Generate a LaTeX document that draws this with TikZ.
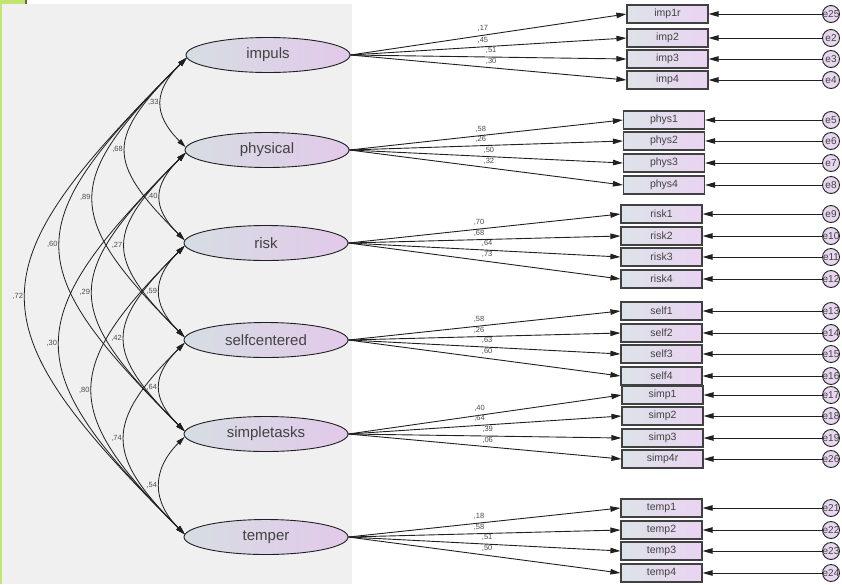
\documentclass[tikz,border=0pt]{standalone}
\usepackage{fontspec}
\setmainfont{Liberation Sans}
\usetikzlibrary{shapes.geometric,arrows.meta}
\definecolor{panel}{HTML}{F0F0F0}
\definecolor{lgreen}{HTML}{C2E570}
\definecolor{latL}{HTML}{D6DDE3}
\definecolor{latR}{HTML}{E2C9EA}
\definecolor{boxL}{HTML}{DDE3E8}
\definecolor{boxR}{HTML}{EAD3F2}
\definecolor{errC}{HTML}{E6D6EE}
\definecolor{ink}{HTML}{202020}
\newcommand{\indic}[8]{%
  \node[obs] (#2) at (#3,#4) {#5};
  \node[err, label={[errtxt]center:#6}] (#6) at (831,#4) {};
  \draw[eline] (#6) -- (#2.east);
  \draw[load] (#1.east) -- node[coef, pos=#8, above=2.5pt] {#7} (#2.west);
}
\begin{document}
\begin{tikzpicture}[x=1pt,y=-1pt,
  latent/.style={ellipse, draw=ink, line width=0.9pt, minimum width=164pt, minimum height=35pt, inner sep=0pt, left color=latL, right color=latR, font=\fontsize{15}{16}\selectfont, text=ink!85},
  obs/.style={rectangle, draw=ink!85, line width=1.2pt, minimum width=81pt, minimum height=18pt, inner sep=0pt, left color=boxL, right color=boxR, font=\fontsize{10.5}{12}\selectfont, text=ink!85},
  err/.style={circle, draw=ink, line width=0.9pt, minimum size=17pt, inner sep=0pt, fill=errC},
  errtxt/.style={font=\fontsize{10}{12}\selectfont, inner sep=0pt, text=ink!85},
  load/.style={draw=ink, line width=0.9pt, -{Triangle[length=10pt,width=5.5pt]}},
  eline/.style={draw=ink, line width=0.9pt, -{Triangle[length=10pt,width=5.5pt]}},
  cov/.style={draw=ink, line width=0.8pt, {Triangle[length=9pt,width=5pt]}-{Triangle[length=9pt,width=5pt]}},
  coef/.style={font=\fontsize{7.5}{8}\selectfont, inner sep=0.5pt, text=ink!80},
]
\useasboundingbox (0,0) rectangle (842,584);
% background
\fill[white] (0,0) rectangle (842,584);
\fill[panel] (2,4) rectangle (352,584);
\fill[lgreen] (0,0) rectangle (2,584);
\fill[lgreen] (0,0) rectangle (25,4);
\fill[ink!70] (25,0) rectangle (26.5,4);

% latent variables
\node[latent] (Limp) at (268,55) {impuls};
\node[latent] (Lphy) at (267,150) {physical};
\node[latent] (Lrsk) at (266,243) {risk};
\node[latent] (Lslf) at (266,340) {selfcentered};
\node[latent] (Lsmp) at (266,434) {simpletasks};
\node[latent] (Ltmp) at (266,537) {temper};

% indicators
\indic{Limp}{imp1r}{667.5}{14}{imp1r}{e25}{,17}{.48}
\indic{Limp}{imp2}{667.5}{38}{imp2}{e2}{,45}{.48}
\indic{Limp}{imp3}{667.5}{59}{imp3}{e3}{,51}{.51}
\indic{Limp}{imp4}{667.5}{80}{imp4}{e4}{,30}{.51}

\indic{Lphy}{phys1}{664}{120}{phys1}{e5}{,58}{.48}
\indic{Lphy}{phys2}{664}{141}{phys2}{e6}{,26}{.48}
\indic{Lphy}{phys3}{664}{163}{phys3}{e7}{,50}{.51}
\indic{Lphy}{phys4}{664}{185}{phys4}{e8}{,32}{.51}

\indic{Lrsk}{risk1}{661.5}{214}{risk1}{e9}{,70}{.48}
\indic{Lrsk}{risk2}{661.5}{236}{risk2}{e10}{,68}{.48}
\indic{Lrsk}{risk3}{661.5}{257}{risk3}{e11}{,64}{.51}
\indic{Lrsk}{risk4}{661.5}{279}{risk4}{e12}{,73}{.51}

\indic{Lslf}{self1}{661.5}{311}{self1}{e13}{,58}{.48}
\indic{Lslf}{self2}{661.5}{333}{self2}{e14}{,26}{.48}
\indic{Lslf}{self3}{661.5}{354}{self3}{e15}{,63}{.51}
\indic{Lslf}{self4}{661.5}{376}{self4}{e16}{,60}{.51}

\indic{Lsmp}{simp1}{662.5}{395}{simp1}{e17}{,40}{.48}
\indic{Lsmp}{simp2}{662.5}{416}{simp2}{e18}{,64}{.48}
\indic{Lsmp}{simp3}{662.5}{438}{simp3}{e19}{,39}{.51}
\indic{Lsmp}{simp4r}{662.5}{459}{simp4r}{e26}{,06}{.51}

\indic{Ltmp}{temp1}{661.5}{508}{temp1}{e21}{,18}{.48}
\indic{Ltmp}{temp2}{661.5}{530}{temp2}{e22}{,58}{.48}
\indic{Ltmp}{temp3}{661.5}{551}{temp3}{e23}{,51}{.51}
\indic{Ltmp}{temp4}{661.5}{573}{temp4}{e24}{,50}{.51}

% covariances
\draw[cov] (Limp.182) .. controls +(-33,33) and +(-33,-33) .. (Lphy.178) node[coef, pos=.5, left=2pt] {,33};
\draw[cov] (Limp.182) .. controls +(-80,80) and +(-80,-80) .. (Lrsk.178) node[coef, pos=.5, left=2pt] {,68};
\draw[cov] (Limp.182) .. controls +(-123,123) and +(-123,-123) .. (Lslf.178) node[coef, pos=.5, left=2pt] {,89};
\draw[cov] (Limp.182) .. controls +(-167,167) and +(-167,-167) .. (Lsmp.178) node[coef, pos=.5, left=2pt] {,60};
\draw[cov] (Limp.182) .. controls +(-213,213) and +(-213,-213) .. (Ltmp.178) node[coef, pos=.5, left=2pt] {,72};
\draw[cov] (Lphy.182) .. controls +(-33,33) and +(-33,-33) .. (Lrsk.178) node[coef, pos=.5, left=2pt] {,40};
\draw[cov] (Lphy.182) .. controls +(-80,80) and +(-80,-80) .. (Lslf.178) node[coef, pos=.5, left=2pt] {,27};
\draw[cov] (Lphy.182) .. controls +(-123,123) and +(-123,-123) .. (Lsmp.178) node[coef, pos=.5, left=2pt] {,29};
\draw[cov] (Lphy.182) .. controls +(-167,167) and +(-167,-167) .. (Ltmp.178) node[coef, pos=.5, left=2pt] {,30};
\draw[cov] (Lrsk.182) .. controls +(-33,33) and +(-33,-33) .. (Lslf.178) node[coef, pos=.5, left=2pt] {,59};
\draw[cov] (Lrsk.182) .. controls +(-80,80) and +(-80,-80) .. (Lsmp.178) node[coef, pos=.5, left=2pt] {,42};
\draw[cov] (Lrsk.182) .. controls +(-123,123) and +(-123,-123) .. (Ltmp.178) node[coef, pos=.5, left=2pt] {,80};
\draw[cov] (Lslf.182) .. controls +(-33,33) and +(-33,-33) .. (Lsmp.178) node[coef, pos=.5, left=2pt] {,64};
\draw[cov] (Lslf.182) .. controls +(-80,80) and +(-80,-80) .. (Ltmp.178) node[coef, pos=.5, left=2pt] {,74};
\draw[cov] (Lsmp.182) .. controls +(-33,33) and +(-33,-33) .. (Ltmp.178) node[coef, pos=.5, left=2pt] {,54};
\end{tikzpicture}
\end{document}
